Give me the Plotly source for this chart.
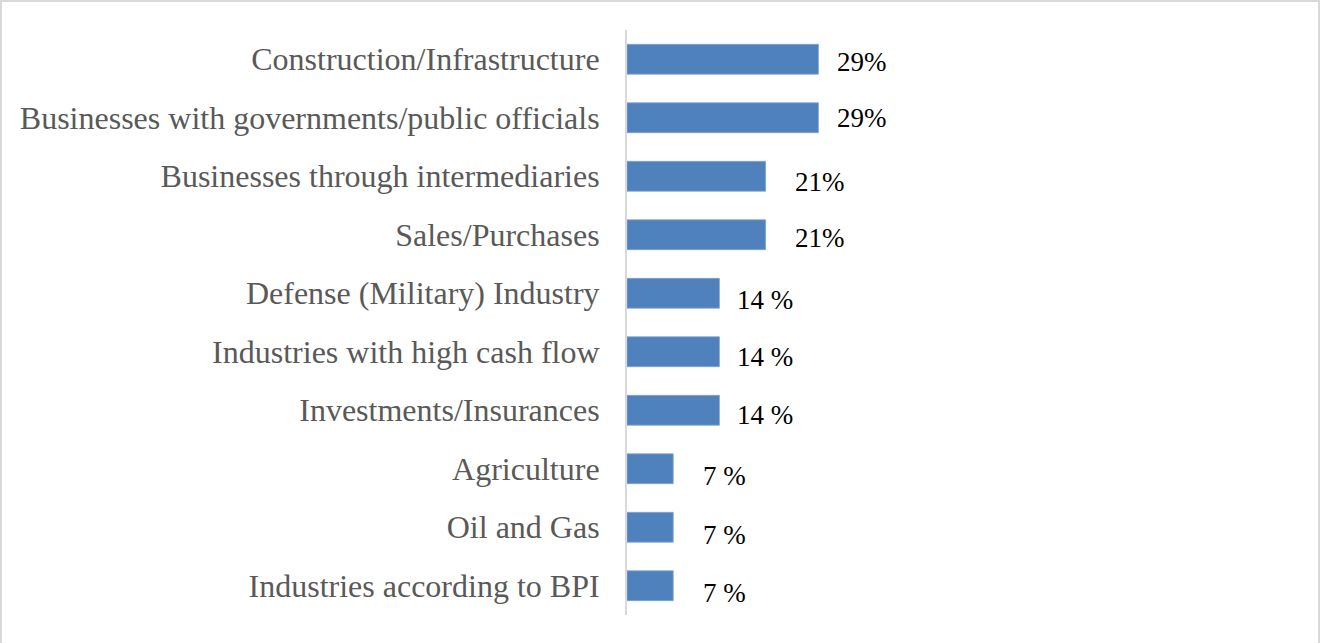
import plotly.graph_objects as go

# Sectors and the share of respondents naming each one (%)
categories = [
    "Construction/Infrastructure",
    "Businesses with governments/public officials",
    "Businesses through intermediaries",
    "Sales/Purchases",
    "Defense (Military) Industry",
    "Industries with high cash flow",
    "Investments/Insurances",
    "Agriculture",
    "Oil and Gas",
    "Industries according to BPI",
]
shares = [29, 29, 21, 21, 14, 14, 14, 7, 7, 7]
# value labels as printed next to each bar
label_text = ["29%", "29%", "21%", "21%", "14 %", "14 %", "14 %", "7 %", "7 %", "7 %"]

# per-row nudges of the value labels (pixels)
label_dx = [17, 17, 27, 27, 16, 16, 16, 28, 28, 28]
label_dy = [-3, 0, -6, -3, -7, -5, -5, -7, -8, -7]

BAR = "#4F81BD"
GRID = "#D9D9D9"
TICK = "#595959"
FONT = "Liberation Serif, Times New Roman, serif"

fig = go.Figure(
    go.Bar(
        x=shares,
        y=categories,
        orientation="h",
        marker=dict(color=BAR, line=dict(color="#7FA3D1", width=0.8)),
        hoverinfo="skip",
    )
)

for cat, val, txt, dx, dy in zip(categories, shares, label_text, label_dx, label_dy):
    fig.add_annotation(
        x=val, y=cat, text=txt, showarrow=False,
        xanchor="left", yanchor="middle", xshift=dx, yshift=dy,
        font=dict(family=FONT, size=27, color="#000000"),
    )

# light frame around the whole chart
W, H = 1320, 643
ml, mr, mt, mb = 627, 20, 30, 28
pw, ph = W - ml - mr, H - mt - mb
def px_x(p):
    return (p - ml) / pw
def px_y(p):
    return (H - mb - p) / ph

fig.add_shape(
    type="rect", xref="paper", yref="paper",
    x0=px_x(1), x1=px_x(1319), y0=px_y(650), y1=px_y(1),
    line=dict(color=GRID, width=2), fillcolor="rgba(0,0,0,0)",
)

fig.update_layout(
    width=W, height=H,
    margin=dict(l=ml, r=mr, t=mt, b=mb, pad=0),
    paper_bgcolor="white", plot_bgcolor="white",
    bargap=0.49,
    showlegend=False,
    font=dict(family=FONT),
)
fig.update_xaxes(
    range=[0, pw / 6.6], visible=False, showgrid=False, zeroline=False,
)
fig.update_yaxes(
    autorange="reversed", showgrid=False, zeroline=False,
    showline=True, linecolor=GRID, linewidth=2,
    ticks="", ticklabelstandoff=19,
    tickfont=dict(family=FONT, size=32, color=TICK),
)

fig.write_html("out.html")
